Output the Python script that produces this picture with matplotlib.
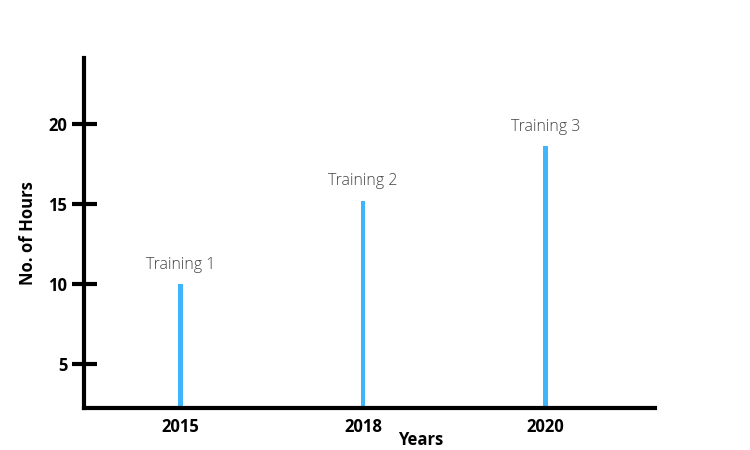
import matplotlib.pyplot as plt

plt.rcParams['font.family'] = ['Open Sans', 'DejaVu Sans']

years = ['2015', '2018', '2020']
hours = [10, 15.2, 18.6]
labels = ['Training 1', 'Training 2', 'Training 3']
yticks = [5, 10, 15, 20]

fig = plt.figure(figsize=(7.5, 4.5), dpi=100)
ax = fig.add_axes([0.112, 0.093, 0.761, 0.778])

pos = range(len(years))
ax.bar(pos, hours, width=0.025, color='#3fb6fb', bottom=0)
for x, h, lab in zip(pos, hours, labels):
    ax.text(x, h + 0.7, lab, ha='center', va='bottom', fontsize=11.5,
            color='#444444', fontweight='light')

ax.set_xlim(-0.53, 2.6)
ax.set_ylim(2.25, 24.1)

for s in ['top', 'right']:
    ax.spines[s].set_visible(False)
for s in ['left', 'bottom']:
    ax.spines[s].set_linewidth(3)

ax.set_yticks(yticks)
ax.set_yticklabels([str(t) for t in yticks], fontsize=12, fontweight='bold')
ax.tick_params(axis='y', direction='inout', length=18, width=3, pad=3)
ax.set_xticks(list(pos))
ax.set_xticklabels(years, fontsize=12, fontweight='bold')
ax.tick_params(axis='x', length=0, pad=7)

ax.set_ylabel('No. of Hours', fontsize=12, fontweight='bold')
ax.yaxis.set_label_coords(-0.083, 0.5)
ax.set_xlabel('Years', fontsize=12, fontweight='bold')
ax.xaxis.set_label_coords(0.59, -0.065)

fig.savefig('out.png', dpi=100)
